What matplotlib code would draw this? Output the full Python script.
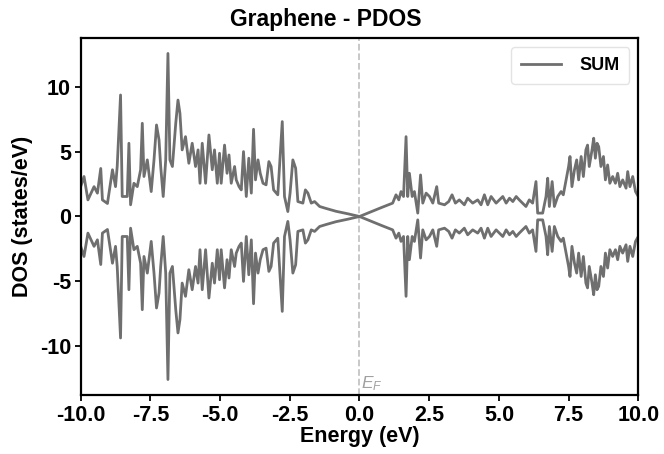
import numpy as np
import matplotlib.pyplot as plt

plt.rcParams['font.family'] = ['Liberation Sans', 'DejaVu Sans']
plt.rcParams['axes.unicode_minus'] = False
plt.rcParams['mathtext.fontset'] = 'custom'
plt.rcParams['mathtext.it'] = 'Liberation Sans:italic'
plt.rcParams['mathtext.rm'] = 'Liberation Sans'

# Spin-up DOS (spin-down is its mirror image)
energy = [
    -10.0, -9.88, -9.74, -9.52, -9.40, -9.28, -9.22, -9.04, -8.86, -8.75,
    -8.69, -8.57, -8.51, -8.33, -8.27, -8.21, -8.09, -7.97, -7.85, -7.79,
    -7.73, -7.61, -7.47, -7.37, -7.28, -7.19, -7.13, -7.04, -6.95, -6.87,
    -6.80, -6.71, -6.59, -6.51, -6.44, -6.36, -6.24, -6.12, -6.00, -5.88,
    -5.79, -5.72, -5.64, -5.52, -5.40, -5.28, -5.20, -5.10, -5.02, -4.96,
    -4.84, -4.75, -4.68, -4.60, -4.48, -4.42, -4.32, -4.24, -4.16, -4.06,
    -3.97, -3.88, -3.80, -3.73, -3.64, -3.56, -3.46, -3.35, -3.25, -3.17,
    -3.08, -2.93, -2.77, -2.69, -2.57, -2.49, -2.39, -2.29, -2.21, -2.03,
    -1.94, -1.85, -1.73, -1.61, -1.43, -1.20, -0.84, -0.40, 0.00, 0.40,
    0.80, 1.19, 1.31, 1.41, 1.49, 1.58, 1.67, 1.73, 1.79, 1.89,
    1.97, 2.09, 2.19, 2.27, 2.39, 2.51, 2.63, 2.77, 2.84, 3.05,
    3.20, 3.32, 3.44, 3.58, 3.76, 3.88, 4.06, 4.24, 4.36, 4.48,
    4.60, 4.72, 4.90, 5.02, 5.14, 5.26, 5.38, 5.50, 5.62, 5.73,
    5.85, 5.97, 6.09, 6.21, 6.33, 6.39, 6.57, 6.69, 6.75, 6.81,
    6.91, 6.99, 7.11, 7.23, 7.31, 7.41, 7.50, 7.55, 7.62, 7.71,
    7.79, 7.86, 7.95, 8.03, 8.12, 8.18, 8.24, 8.34, 8.40, 8.46,
    8.52, 8.58, 8.66, 8.75, 8.82, 8.90, 8.98, 9.08, 9.18, 9.26,
    9.34, 9.44, 9.56, 9.62, 9.70, 9.80, 9.90, 10.0,
]
dos_up = [
    2.30, 3.08, 1.28, 2.30, 1.80, 3.70, 1.28, 1.00, 3.60, 2.30,
    3.85, 9.36, 1.54, 1.54, 5.64, 0.90, 2.56, 2.30, 3.60, 7.18,
    3.08, 4.36, 1.92, 4.36, 7.05, 5.90, 3.85, 1.54, 4.36, 12.56,
    4.36, 3.85, 7.18, 8.97, 7.95, 5.13, 6.15, 4.10, 5.64, 3.85,
    5.13, 2.56, 5.64, 2.56, 6.28, 3.60, 5.13, 2.56, 4.87, 2.56,
    5.50, 3.33, 4.74, 2.56, 3.85, 2.82, 2.30, 2.05, 5.00, 1.54,
    4.49, 1.80, 6.72, 2.82, 4.36, 3.33, 2.56, 2.44, 4.23, 3.85,
    2.05, 1.67, 7.31, 1.54, 0.38, 1.80, 4.36, 3.72, 1.15, 1.03,
    2.05, 1.80, 1.03, 1.15, 0.77, 0.62, 0.40, 0.20, 0.00, 0.35,
    0.70, 1.03, 1.67, 1.28, 1.92, 1.54, 6.15, 1.54, 3.33, 1.54,
    1.92, 0.26, 3.20, 1.03, 1.80, 1.54, 1.03, 2.30, 1.03, 0.90,
    1.15, 1.67, 1.03, 1.28, 0.90, 1.41, 1.03, 1.28, 0.90, 1.67,
    0.90, 1.54, 1.03, 1.28, 1.54, 1.03, 1.41, 1.15, 1.54, 1.28,
    1.03, 0.77, 1.28, 1.03, 2.69, 0.26, 0.26, 1.54, 2.95, 0.77,
    2.69, 0.77, 1.54, 1.92, 1.67, 2.82, 3.85, 4.62, 2.30, 3.59,
    4.36, 2.82, 4.62, 3.08, 5.13, 5.50, 3.85, 5.13, 6.03, 4.49,
    5.64, 5.38, 3.85, 4.62, 2.82, 3.97, 2.56, 3.08, 2.56, 3.33,
    2.30, 2.82, 2.18, 3.46, 2.30, 3.08, 1.92, 1.54,
]
dos_down = [-v for v in dos_up]

x_ticks = [-10.0, -7.5, -5.0, -2.5, 0.0, 2.5, 5.0, 7.5, 10.0]
y_ticks = [-10, -5, 0, 5, 10]

line_color = '#6f6f6f'

fig = plt.figure(figsize=(6.64, 4.54), dpi=100)
ax = fig.add_axes([0.1215, 0.130, 0.8398, 0.7863])

ax.plot(energy, dos_up, color=line_color, linewidth=2.0, label='SUM')
ax.plot(energy, dos_down, color=line_color, linewidth=2.0)

# フェルミ準位
ax.axvline(0.0, color='#c4c4c4', linestyle='--', linewidth=1.3, zorder=0)
ax.text(0.05, -13.6, '$E_F$', color='#a0a0a0', fontsize=12.5,
        ha='left', va='bottom')

ax.set_xlim(-10, 10)
ax.set_ylim(-13.75, 13.75)
ax.set_xticks(x_ticks)
ax.set_xticklabels([f'{t:.1f}' for t in x_ticks])
ax.set_yticks(y_ticks)

ax.tick_params(direction='out', length=4, width=1.3, labelsize=15.5, pad=3)
for lab in ax.get_xticklabels() + ax.get_yticklabels():
    lab.set_fontweight('bold')
for sp in ax.spines.values():
    sp.set_linewidth(1.6)

ax.set_xlabel('Energy (eV)', fontsize=15.5, fontweight='bold', labelpad=0)
ax.set_ylabel('DOS (states/eV)', fontsize=15.5, fontweight='bold', labelpad=5)
fig.text(0.49, 0.958, 'Graphene - PDOS', fontsize=16.5, fontweight='bold',
         ha='center', va='center')

leg = ax.legend(loc='upper right', prop={'size': 13, 'weight': 'bold'},
                handlelength=2.2, handletextpad=1.0, borderpad=0.55,
                fancybox=True)
leg.get_frame().set_edgecolor('#dddddd')
leg.get_frame().set_linewidth(1.0)

plt.savefig('out.png', dpi=100)
plt.close()
